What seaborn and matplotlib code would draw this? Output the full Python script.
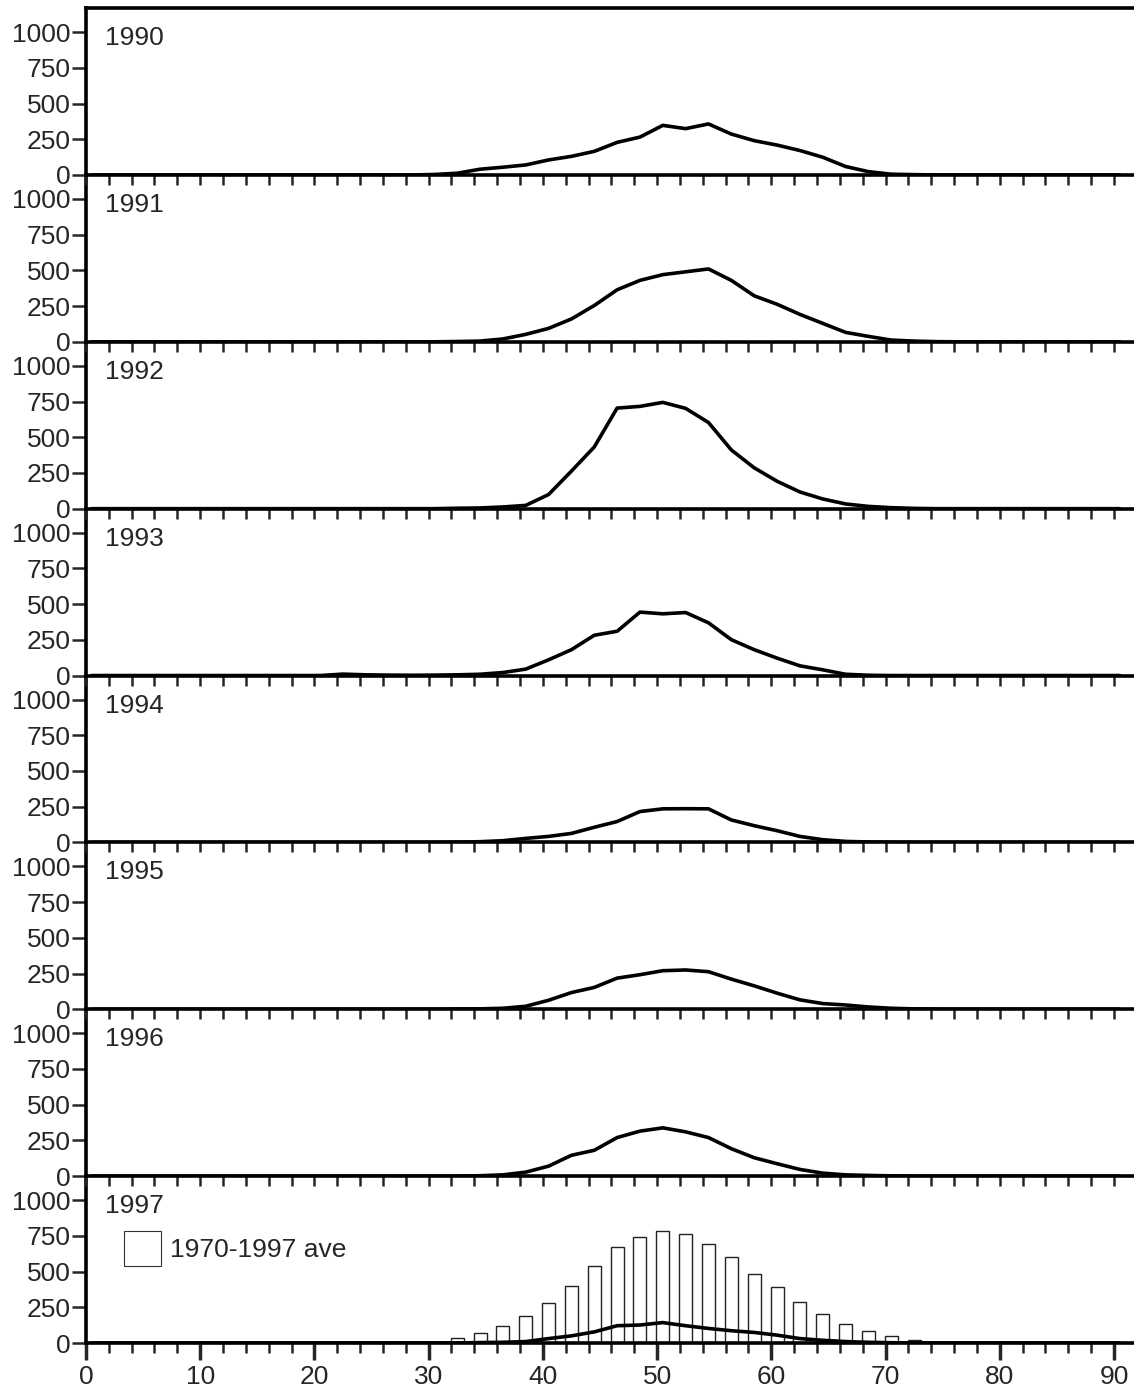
import numpy as np
import pandas as pd
import matplotlib
matplotlib.use("Agg")
import matplotlib.pyplot as plt
from matplotlib.patches import Patch
from matplotlib.ticker import MultipleLocator
import seaborn as sns

# Length classes (cm, class midpoints)
length_cm = [0.5, 2.5, 4.5, 6.5, 8.5, 10.5, 12.5, 14.5, 16.5, 18.5,
             20.5, 22.5, 24.5, 26.5, 28.5, 30.5, 32.5, 34.5, 36.5, 38.5,
             40.5, 42.5, 44.5, 46.5, 48.5, 50.5, 52.5, 54.5, 56.5, 58.5,
             60.5, 62.5, 64.5, 66.5, 68.5, 70.5, 72.5, 74.5, 76.5, 78.5,
             80.5, 82.5, 84.5, 86.5, 88.5, 90.5]

years = ["1990", "1991", "1992", "1993", "1994", "1995", "1996", "1997"]

# Numbers at length, per year (0.5 ... 90.5 cm)
n_1990 = [0, 0, 0, 0, 0, 0, 0, 0, 0, 0, 0, 0, 0, 0, 0,
          3, 12, 40, 54, 70, 105, 130, 165, 228, 265, 347, 324, 357, 286, 240,
          209, 171, 124, 59, 23, 5, 2, 0, 0, 0, 0, 0, 0, 0, 0, 0]
n_1991 = [0, 0, 0, 0, 0, 0, 0, 0, 0, 0, 0, 0, 0, 0, 0,
          0, 2, 5, 20, 52, 94, 160, 254, 364, 430, 470, 490, 510, 430, 322,
          263, 192, 129, 66, 38, 12, 5, 1, 0, 0, 0, 0, 0, 0, 0, 0]
n_1992 = [0, 0, 0, 0, 0, 0, 0, 0, 0, 0, 0, 0, 0, 0, 0,
          0, 3, 5, 12, 23, 99, 263, 432, 704, 716, 744, 702, 603, 411, 286,
          192, 117, 68, 33, 16, 7, 2, 0, 0, 0, 0, 0, 0, 0, 0, 0]
n_1993 = [0, 0, 0, 0, 0, 0, 0, 0, 0, 0, 0, 10, 5, 3, 2,
          3, 5, 9, 21, 45, 110, 181, 282, 310, 444, 432, 441, 369, 251, 181,
          122, 68, 40, 9, 2, 0, 0, 0, 0, 0, 0, 0, 0, 0, 0, 0]
n_1994 = [0, 0, 0, 0, 0, 0, 0, 0, 0, 0, 0, 0, 0, 0, 0,
          0, 2, 5, 12, 28, 42, 63, 106, 146, 216, 235, 236, 235, 157, 117,
          82, 42, 19, 7, 3, 1, 0, 0, 0, 0, 0, 0, 0, 0, 0, 0]
n_1995 = [0, 0, 0, 0, 0, 0, 0, 0, 0, 0, 0, 0, 0, 0, 0,
          0, 2, 3, 7, 21, 63, 117, 153, 218, 242, 270, 275, 263, 211, 164,
          113, 66, 40, 30, 16, 7, 3, 1, 0, 0, 0, 0, 0, 0, 0, 0]
n_1996 = [0, 0, 0, 0, 0, 0, 0, 0, 0, 0, 0, 0, 0, 0, 0,
          0, 0, 3, 9, 28, 70, 146, 181, 270, 315, 338, 310, 270, 192, 129,
          87, 47, 21, 9, 5, 2, 0, 0, 0, 0, 0, 0, 0, 0, 0, 0]
n_1997 = [0, 0, 0, 0, 0, 0, 0, 0, 0, 0, 0, 0, 0, 0, 0,
          0, 0, 3, 5, 10, 31, 50, 78, 121, 126, 143, 121, 102, 86, 74,
          55, 31, 19, 10, 5, 2, 0, 0, 0, 0, 0, 0, 0, 0, 0, 0]

# Long-term mean 1970-1997
ave_1970_1997 = [0, 0, 0, 0, 0, 0, 0, 0, 0, 0, 0, 0, 0, 0, 0,
                 3, 38, 70, 120, 192, 280, 402, 538, 672, 745, 785, 760, 690, 600, 485,
                 393, 290, 202, 135, 82, 50, 22, 9, 4, 2, 0, 0, 0, 0, 0, 0]

series = [n_1990, n_1991, n_1992, n_1993, n_1994, n_1995, n_1996, n_1997]
legend_label = "1970-1997 ave"

sns.set_style("ticks")
plt.rcParams["font.family"] = ["Liberation Sans", "DejaVu Sans"]
plt.rcParams["font.size"] = 19

fig, axes = plt.subplots(8, 1, sharex=True, figsize=(11.34, 13.91), dpi=100)
fig.subplots_adjust(left=0.0758, right=0.9995, top=0.9942, bottom=0.0345, hspace=0)

lw = 2.6
n_panels = len(axes)
for i, (ax, yr, vals) in enumerate(zip(axes, years, series)):
    ax.patch.set_visible(False)
    ax.set_zorder(n_panels - i)
    df = pd.DataFrame({"length": length_cm, "n": vals})
    if i == n_panels - 1:
        ave_df = pd.DataFrame({"length": length_cm, "n": ave_1970_1997})
        sns.barplot(data=ave_df, x="length", y="n", native_scale=True, width=0.57,
                    color="white", edgecolor="#222222", linewidth=1.0,
                    errorbar=None, ax=ax, zorder=1)
    sns.lineplot(data=df, x="length", y="n", color="black", linewidth=lw,
                 ax=ax, zorder=3)
    ax.set_xlim(0, 91.7)
    ax.set_ylim(0, 1168)
    ax.set_yticks([0, 250, 500, 750, 1000])
    ax.set_xlabel("")
    ax.set_ylabel("")
    ax.text(0.018, 0.82, yr, transform=ax.transAxes, fontsize=19,
            ha="left", va="center")
    for side in ["left", "bottom", "top"]:
        ax.spines[side].set_linewidth(2.6)
        ax.spines[side].set_color("black")
    ax.spines["right"].set_visible(False)
    ax.spines["top"].set_visible(i == 0)
    ax.tick_params(axis="y", direction="out", length=10, width=1.8,
                   labelsize=19, pad=1)
    ax.xaxis.set_major_locator(MultipleLocator(10))
    ax.xaxis.set_minor_locator(MultipleLocator(2))
    if i < n_panels - 1:
        ax.tick_params(axis="x", which="both", direction="out", length=7,
                       width=1.8, labelbottom=False)
    else:
        ax.tick_params(axis="x", which="major", direction="out", length=12,
                       width=2.5, labelsize=19, pad=4)
        ax.tick_params(axis="x", which="minor", direction="out", length=7,
                       width=1.8)
        ax.legend(handles=[Patch(facecolor="white", edgecolor="#333333",
                                 linewidth=0.8, label=legend_label)],
                  loc="upper left", bbox_to_anchor=(0.036, 0.67),
                  frameon=False, fontsize=19, handlelength=1.4,
                  handleheight=1.65, handletextpad=0.35, borderaxespad=0,
                  borderpad=0)

fig.savefig("out.png", dpi=100)
